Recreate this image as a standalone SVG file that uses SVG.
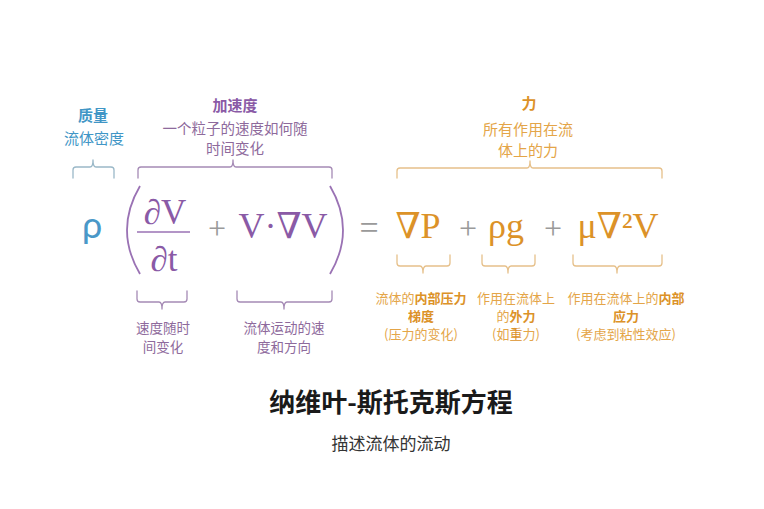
<svg xmlns="http://www.w3.org/2000/svg" width="764" height="509" viewBox="0 0 764 509">
<style>
.cjk{font-family:"Noto Sans CJK SC","Noto Sans",sans-serif;text-anchor:middle}
.b{font-weight:bold}
.blue{fill:#4196c6}
.pur{fill:#8a5aa6}
.pur2{fill:#8e6a9c}
.org{fill:#e4a548}
.org2{fill:#dc9228}
.math{font-family:"Liberation Serif","DejaVu Serif",serif}
.brace{fill:none;stroke-width:1.3;stroke-linecap:round;stroke-linejoin:round}
.bl{stroke:#9ab8c8}
.bp{stroke:#a58ab5}
.bo{stroke:#e6c08a}
</style>
<rect width="764" height="509" fill="#ffffff"/>

<g id="connectors">
  <path class="brace bl" d="M73,178 V170 Q73,167 76,167 H90 Q93,167 93,160 Q93,167 96,167 H111 Q114,167 114,170 V178"/>
  <path class="brace bp" d="M138,178 V170 Q138,167 141,167 H230 Q233,167 233,160 Q233,167 236,167 H329 Q332,167 332,170 V178"/>
  <path class="brace bo" d="M397,178 V171 Q397,168 400,168 H527 Q530,168 530,161 Q530,168 533,168 H659 Q662,168 662,171 V178"/>
  <path class="brace bp" d="M137,291 V299 Q137,302 140,302 H159 Q162,302 162,309 Q162,302 165,302 H184 Q187,302 187,299 V291"/>
  <path class="brace bp" d="M237,291 V299 Q237,302 240,302 H281 Q284,302 284,309 Q284,302 287,302 H329 Q332,302 332,299 V291"/>
  <path class="brace bo" d="M397,255 V263 Q397,266 400,266 H420 Q423,266 423,273 Q423,266 426,266 H447 Q450,266 450,263 V255"/>
  <path class="brace bo" d="M482,255 V263 Q482,266 485,266 H505 Q508,266 508,273 Q508,266 511,266 H532 Q535,266 535,263 V255"/>
  <path class="brace bo" d="M573,255 V263 Q573,266 576,266 H614 Q617,266 617,273 Q617,266 620,266 H659 Q662,266 662,263 V255"/>
</g>

<g id="mass-label">
  <text class="cjk b blue" x="93" y="121" font-size="15">质量</text>
  <text class="cjk blue" x="94" y="144" font-size="15">流体密度</text>
</g>
<g id="accel-label">
  <text class="cjk b pur" x="235" y="111" font-size="15">加速度</text>
  <text class="cjk pur2" x="235" y="134" font-size="14.5">一个粒子的速度如何随</text>
  <text class="cjk pur2" x="235" y="154" font-size="14.5">时间变化</text>
</g>
<g id="force-label">
  <text class="cjk b org2" x="529" y="109" font-size="15">力</text>
  <text class="cjk org" x="528" y="135" font-size="15">所有作用在流</text>
  <text class="cjk org" x="528" y="156" font-size="15">体上的力</text>
</g>

<g id="equation">
  <text x="82" y="238" font-family="Lato,'Noto Sans',sans-serif" font-size="36" fill="#4a98c8">ρ</text>
  <path d="M140,186 Q114,230 140,274" fill="none" stroke="#9a72b4" stroke-width="1.8"/>
  <path d="M330,186 Q356,230 330,274" fill="none" stroke="#9a72b4" stroke-width="1.8"/>
  <text class="math pur" x="165" y="224" font-size="35" text-anchor="middle">∂V</text>
  <line x1="137" y1="232" x2="190" y2="232" stroke="#9a72b4" stroke-width="1.5"/>
  <text class="math pur" x="164" y="271" font-size="35" text-anchor="middle">∂t</text>
  <text class="math" x="217" y="239" font-size="32" fill="#9a9a9a" text-anchor="middle">+</text>
  <text class="math pur" x="283" y="238" font-size="36" text-anchor="middle">V·∇V</text>
  <text class="math" x="369" y="239" font-size="34" fill="#9a9a9a" text-anchor="middle">=</text>
  <text class="math org2" x="418" y="238" font-size="36" text-anchor="middle">∇P</text>
  <text class="math" x="468" y="239" font-size="32" fill="#9a9a9a" text-anchor="middle">+</text>
  <text class="math org2" x="506" y="238" font-size="36" text-anchor="middle">ρg</text>
  <text class="math" x="553" y="239" font-size="32" fill="#9a9a9a" text-anchor="middle">+</text>
  <text class="math org2" x="618" y="238" font-size="36" text-anchor="middle">μ∇²V</text>
</g>

<g id="dt-note">
  <text class="cjk pur2" x="163" y="333" font-size="13.5">速度随时</text>
  <text class="cjk pur2" x="163" y="352" font-size="13.5">间变化</text>
</g>
<g id="convect-note">
  <text class="cjk pur2" x="284" y="333" font-size="13.5">流体运动的速</text>
  <text class="cjk pur2" x="284" y="352" font-size="13.5">度和方向</text>
</g>
<g id="pressure-note">
  <text class="cjk org" x="421" y="303" font-size="13">流体的<tspan class="b org2">内部压力</tspan></text>
  <text class="cjk b org2" x="421" y="321" font-size="13">梯度</text>
  <text class="cjk org" x="421" y="339" font-size="13">(压力的变化)</text>
</g>
<g id="gravity-note">
  <text class="cjk org" x="516" y="303" font-size="13">作用在流体上</text>
  <text class="cjk org" x="516" y="321" font-size="13">的<tspan class="b org2">外力</tspan></text>
  <text class="cjk org" x="516" y="339" font-size="13">(如<tspan class="org2">重</tspan>力)</text>
</g>
<g id="viscous-note">
  <text class="cjk org" x="626" y="303" font-size="13">作用在流体上的<tspan class="b org2">内部</tspan></text>
  <text class="cjk b org2" x="626" y="321" font-size="13">应力</text>
  <text class="cjk org" x="626" y="339" font-size="13">(考虑到粘性效应)</text>
</g>

<g id="title">
  <text class="cjk b" x="391" y="412" font-size="26" fill="#1a1a1a">纳维叶-斯托克斯方程</text>
  <text class="cjk" x="391" y="450" font-size="17" fill="#333333">描述流体的流动</text>
</g>
</svg>
